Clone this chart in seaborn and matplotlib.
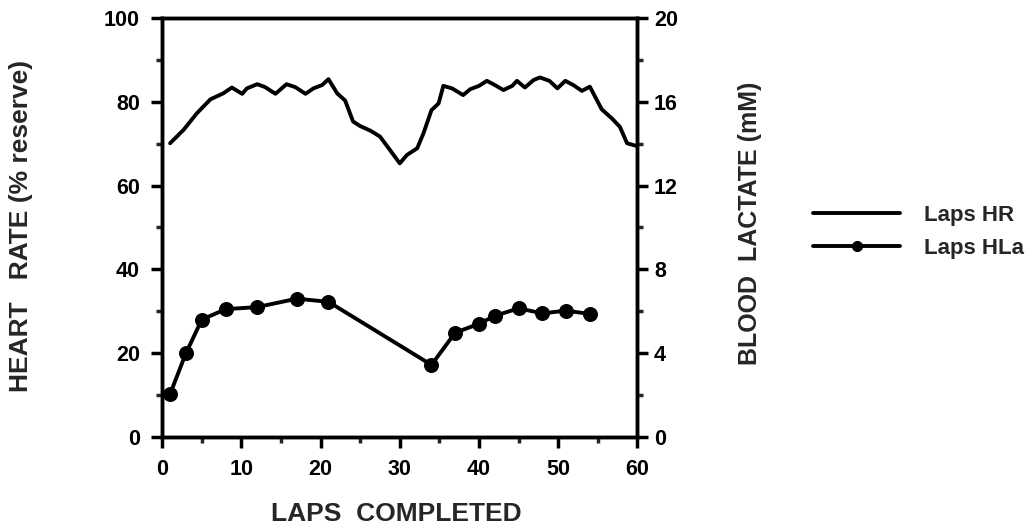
import matplotlib
matplotlib.use("Agg")
import matplotlib.pyplot as plt
from matplotlib.lines import Line2D
from matplotlib.ticker import MultipleLocator
import pandas as pd
import seaborn as sns

# heart rate (% reserve), per lap
hr_laps = [1, 2.7, 4.4, 6.1, 7.7, 8.8, 10.1, 10.7, 12, 13, 14.3, 15.7, 16.8, 18.1, 19.1,
           20.2, 21, 22.1, 23.1, 24.1, 25, 26.3, 27.5, 28.6, 30, 30.9, 32.2, 33, 34, 34.9,
           35.5, 36.6, 38, 38.9, 40, 41, 42, 43.1, 44.2, 44.8, 45.8, 46.9, 47.7, 48.9, 49.9,
           50.9, 51.9, 53, 54, 55.5, 56.8, 57.8, 58.7, 60]
hr_vals = [70.1, 73.3, 77.3, 80.6, 82, 83.4, 81.9, 83.2, 84.2, 83.5, 81.9, 84.2, 83.5, 81.9, 83.2,
           84, 85.4, 82, 80.3, 75.3, 74.2, 73.1, 71.7, 68.9, 65.3, 67.3, 68.9, 72.5, 78, 79.6,
           83.8, 83.2, 81.6, 83, 83.8, 85, 84, 82.8, 83.8, 85, 83.4, 85.2, 85.8, 85, 83.2,
           85, 84, 82.6, 83.6, 78.2, 76, 74, 70.1, 69.4]

# blood lactate (mM) samples
hla_laps = [1, 3, 5, 8, 12, 17, 21, 34, 37, 40, 42, 45, 48, 51, 54]
hla_vals = [2.05, 4.0, 5.6, 6.1, 6.2, 6.6, 6.45, 3.44, 4.98, 5.4, 5.78, 6.14, 5.9, 6.03, 5.87]

hr_df = pd.DataFrame({"lap": hr_laps, "hr": hr_vals})
hla_df = pd.DataFrame({"lap": hla_laps, "hla": hla_vals})

sns.set_style("ticks")
plt.rcParams["font.family"] = ["Liberation Sans", "DejaVu Sans"]
plt.rcParams["font.weight"] = "bold"

fig = plt.figure(figsize=(10.33, 5.29), dpi=100)
ax = fig.add_axes([0.157, 0.174, 0.46, 0.792])
ax2 = ax.twinx()

sns.lineplot(data=hr_df, x="lap", y="hr", ax=ax, color="black", lw=2.8, sort=False)
sns.lineplot(data=hla_df, x="lap", y="hla", ax=ax2, color="black", lw=2.8,
             marker="o", markersize=10, markeredgecolor="black", sort=False)

ax.set_xlim(0, 60)
ax.set_ylim(0, 100)
ax2.set_ylim(0, 20)

ax.xaxis.set_major_locator(MultipleLocator(10))
ax.xaxis.set_minor_locator(MultipleLocator(5))
ax.yaxis.set_major_locator(MultipleLocator(20))
ax.yaxis.set_minor_locator(MultipleLocator(10))
ax2.yaxis.set_major_locator(MultipleLocator(4))
ax2.yaxis.set_minor_locator(MultipleLocator(2))

for a in (ax, ax2):
    for s in a.spines.values():
        s.set_visible(True)
        s.set_linewidth(2.5)
        s.set_color("black")
    a.tick_params(which="major", length=8, width=2.5, labelsize=15.5, colors="black")
    a.tick_params(which="minor", length=4, width=2.5)

ax.tick_params(axis="y", pad=8)
ax.tick_params(axis="x", pad=8)
ax2.tick_params(axis="y", pad=4)

ax.set_xlabel("LAPS  COMPLETED", fontsize=19, fontweight="bold")
ax.set_ylabel("HEART   RATE (% reserve)", fontsize=19, fontweight="bold")
ax2.set_ylabel("BLOOD  LACTATE (mM)", fontsize=18, fontweight="bold")
ax.xaxis.set_label_coords(0.493, -0.155)
ax.yaxis.set_label_coords(-0.272, 0.504)
ax2.yaxis.set_label_coords(1.212, 0.51)

handles = [Line2D([], [], color="black", lw=2.8),
           Line2D([], [], color="black", lw=2.8, marker="o", markersize=7)]
fig.legend(handles, ["Laps HR", "Laps HLa"], loc="center left",
           bbox_to_anchor=(0.768, 0.562), frameon=False, handlelength=3.9,
           handletextpad=1.1, labelspacing=0.55,
           prop={"size": 16, "weight": "bold"})

plt.savefig("out.png", dpi=100)
